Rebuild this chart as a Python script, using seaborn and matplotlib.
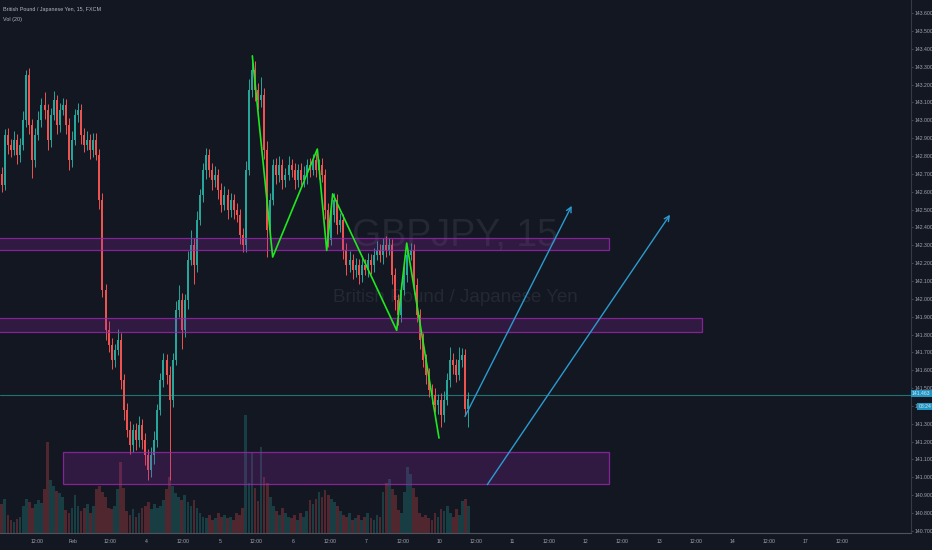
import numpy as np
import seaborn as sns
import matplotlib
matplotlib.use('Agg')
import matplotlib.pyplot as plt
from matplotlib.patches import Rectangle
from matplotlib.ticker import MultipleLocator, FormatStrFormatter

# ==== GBPJPY 15分钟图，按小时读取的价格（收盘价，影线以点计） ====
first_open = 142.700
closes = [
    142.639, 142.919, 142.863, 142.835, 142.891, 142.807, 142.863, 143.003, 143.254, 142.975,
    142.779, 142.919, 143.003, 143.087, 143.059, 142.891, 143.031, 143.114, 142.975, 143.059,
    143.087, 142.975, 142.779, 142.891, 143.031, 143.059, 142.919, 142.863, 142.891, 142.835,
    142.891, 142.807, 142.555, 142.051, 141.827, 141.743, 141.659, 141.715, 141.771, 141.547,
    141.379, 141.267, 141.183, 141.267, 141.211, 141.295, 141.211, 141.127, 141.043, 141.127,
    141.211, 141.379, 141.547, 141.659, 141.575, 141.435, 141.659, 141.939, 141.995, 141.827,
    141.995, 142.219, 142.303, 142.191, 142.443, 142.583, 142.723, 142.807, 142.723, 142.667,
    142.695, 142.611, 142.527, 142.583, 142.499, 142.555, 142.499, 142.471, 142.359, 142.303,
    142.723, 143.170, 143.282, 143.170, 143.114, 143.142, 142.835, 142.387, 142.555, 142.751,
    142.695, 142.751, 142.667, 142.695, 142.751, 142.723, 142.667, 142.723, 142.667, 142.695,
    142.751, 142.723, 142.779, 142.723, 142.751, 142.695, 142.499, 142.331, 142.471, 142.555,
    142.415, 142.443, 142.275, 142.191, 142.219, 142.163, 142.191, 142.135, 142.191, 142.163,
    142.219, 142.191, 142.247, 142.275, 142.247, 142.303, 142.275, 142.303, 142.135, 141.995,
    141.911, 142.051, 142.135, 142.247, 142.275, 142.079, 141.911, 141.771, 141.659, 141.575,
    141.491, 141.463, 141.407, 141.435, 141.351, 141.435, 141.547, 141.659, 141.631, 141.575,
    141.659, 141.687, 141.380, 141.440,
]
up_wick = [
    4, 3, 4, 3, 5, 3, 4, 5, 3, 4,
    3, 4, 5, 4, 7, 3, 4, 5, 3, 4,
    4, 3, 4, 5, 3, 4, 3, 4, 5, 3,
    4, 4, 3, 4, 3, 5, 4, 3, 6, 4,
    3, 4, 5, 3, 4, 5, 3, 4, 3, 4,
    5, 3, 4, 4, 3, 5, 4, 5, 8, 4,
    3, 5, 8, 4, 5, 3, 4, 4, 3, 4,
    5, 3, 4, 5, 3, 4, 3, 4, 3, 4,
    5, 6, 7, 5, 4, 10, 4, 5, 4, 3,
    4, 5, 3, 4, 5, 3, 4, 3, 4, 5,
    3, 4, 3, 4, 3, 4, 3, 4, 5, 4,
    3, 4, 3, 4, 5, 3, 4, 3, 4, 3,
    4, 3, 4, 5, 3, 4, 5, 4, 3, 4,
    3, 4, 5, 4, 4, 3, 4, 3, 4, 3,
    4, 3, 4, 3, 4, 5, 4, 7, 4, 3,
    7, 4, 3, 4,
]
down_wick = [
    4, 3, 5, 4, 3, 5, 4, 3, 4, 5,
    10, 4, 3, 4, 5, 6, 4, 3, 5, 4,
    3, 5, 6, 4, 3, 4, 5, 4, 3, 5,
    4, 3, 5, 4, 6, 4, 5, 4, 3, 5,
    6, 4, 5, 4, 6, 4, 5, 6, 6, 4,
    5, 4, 3, 4, 5, 45, 4, 3, 4, 11,
    4, 5, 3, 11, 4, 3, 4, 5, 4, 6,
    4, 5, 4, 3, 5, 4, 5, 4, 5, 4,
    4, 3, 4, 6, 5, 4, 5, 15, 4, 3,
    5, 4, 5, 4, 3, 4, 5, 4, 3, 4,
    5, 4, 3, 4, 5, 4, 5, 4, 3, 4,
    5, 4, 5, 6, 4, 5, 4, 5, 4, 3,
    4, 5, 4, 3, 4, 5, 4, 3, 5, 6,
    6, 4, 3, 4, 3, 5, 4, 5, 4, 5,
    4, 5, 4, 5, 7, 4, 3, 4, 5, 4,
    3, 4, 3, 10,
]
volumes = [
    32, 38, 20, 14, 12, 15, 18, 30, 38, 34,
    28, 32, 36, 33, 48, 100, 58, 52, 46, 44,
    40, 25, 22, 28, 42, 30, 24, 28, 32, 22,
    30, 48, 52, 45, 40, 28, 26, 30, 48, 78,
    50, 24, 20, 26, 18, 22, 28, 30, 34, 26,
    32, 28, 30, 36, 48, 62, 52, 44, 40, 36,
    42, 34, 30, 36, 28, 22, 18, 16, 20, 14,
    16, 22, 18, 20, 16, 18, 14, 22, 20, 28,
    130, 55, 88, 50, 35, 95, 62, 55, 40, 30,
    24, 20, 28, 22, 18, 16, 20, 14, 22, 18,
    24, 36, 32, 38, 45, 40, 47, 42, 38, 34,
    30, 24, 20, 18, 22, 14, 16, 20, 14, 18,
    22, 16, 14, 20, 18, 45, 55, 60, 48, 42,
    25, 22, 45, 73, 65, 50, 40, 22, 18, 20,
    16, 14, 22, 18, 26, 24, 30, 22, 18, 26,
    20, 35, 38, 30,
]

# x轴：交易日（2月3日 = 0），每半天一个刻度
day_labels = ['12:00', 'Feb', '12:00', '4', '12:00', '5', '12:00', '6', '12:00', '7', '12:00', '10',
              '12:00', '11', '12:00', '12', '12:00', '13', '12:00', '14', '12:00', '17', '12:00']

# 绿色折线（波段）
zigzag_day = [2.443, 2.721, 3.331, 3.459, 3.541, 4.415, 4.552, 4.993]
zigzag_price = [143.361, 142.234, 142.839, 142.271, 142.588, 141.823, 142.312, 141.220]

# 蓝色箭头：起点、终点
arrow_from_day = [5.348, 5.653]
arrow_from_price = [141.341, 140.959]
arrow_to_day = [6.806, 8.149]
arrow_to_price = [142.521, 142.471]

# 紫色区域
zone_left = [-1.2, -1.2, -0.139]
zone_right = [7.31, 8.58, 7.31]
zone_low = [142.271, 141.812, 140.963]
zone_high = [142.340, 141.892, 141.140]

last_price = 141.463
countdown = '08:24'

BG = '#131722'
UP = '#26a69a'
DOWN = '#ef5350'
TXT = '#a3a6af'


def main():
    sns.set_theme(style='dark', rc={'axes.facecolor': BG, 'figure.facecolor': BG,
                                    'savefig.facecolor': BG})
    plt.rcParams['font.family'] = ['Liberation Sans Narrow', 'Liberation Sans', 'DejaVu Sans']

    n = len(closes)
    c = np.array(closes)
    o = np.r_[first_open, c[:-1]]
    hi = np.maximum(o, c) + np.array(up_wick) / 100
    lo = np.minimum(o, c) - np.array(down_wick) / 100
    x = -1.0 + (np.arange(n) + 0.5) / 24
    colors = np.where(c >= o, UP, DOWN)

    fig = plt.figure(figsize=(9.32, 5.5), dpi=100)
    rect = [0, 17 / 550, 911 / 932, 533 / 550]
    ax_vol = fig.add_axes(rect)
    ax = fig.add_axes(rect, sharex=ax_vol)
    ax.patch.set_visible(False)

    # ==== 成交量 ====
    ax_vol.bar(x, volumes, width=0.9 / 24, color=colors, alpha=0.28, linewidth=0)
    ax_vol.set_ylim(0, max(volumes) * 533 / 118)
    ax_vol.set_yticks([])
    ax_vol.tick_params(axis='x', bottom=False, labelbottom=False)
    for s in ax_vol.spines.values():
        s.set_visible(False)

    # ==== 水印 ====
    ax.text(0.4995, 0.5575, 'GBPJPY, 15', transform=ax.transAxes, ha='center', va='center',
            fontsize=27, color='#242833', zorder=0)
    ax.text(0.4995, 0.4425, 'British Pound / Japanese Yen', transform=ax.transAxes,
            ha='center', va='center', fontsize=13.5, color='#242833', zorder=0)

    # ==== K线 ====
    ax.vlines(x, lo, hi, colors=colors, linewidth=0.7, zorder=2)
    ax.bar(x, c - o, bottom=o, width=0.65 / 24, color=colors, linewidth=0, zorder=3)

    # ==== 紫色区域 ====
    for l, r, b, t in zip(zone_left, zone_right, zone_low, zone_high):
        ax.add_patch(Rectangle((l, b), r - l, t - b, facecolor=(156 / 255, 39 / 255, 176 / 255, 0.22),
                               edgecolor=(156 / 255, 39 / 255, 176 / 255, 0.8), linewidth=0.9, zorder=4))

    # ==== 绿色折线 ====
    sns.lineplot(x=zigzag_day, y=zigzag_price, sort=False, estimator=None, color='#1ee81e',
                 linewidth=1.2, ax=ax, zorder=5)

    # ==== 箭头 ====
    for x0, y0, x1, y1 in zip(arrow_from_day, arrow_from_price, arrow_to_day, arrow_to_price):
        ax.annotate('', xy=(x1, y1), xytext=(x0, y0),
                    arrowprops=dict(arrowstyle='->', color='#2b9bd0', lw=1.0,
                                    mutation_scale=9, shrinkA=0, shrinkB=0), zorder=5)

    # 当前价格线
    ax.axhline(last_price, color='#1f756f', linewidth=0.8, zorder=1)

    # ==== 坐标轴 ====
    ax.set_xlim(-1.004, 11.441)
    ax.set_ylim(140.688, 143.674)
    ax.yaxis.tick_right()
    ax.yaxis.set_major_locator(MultipleLocator(0.1))
    ax.yaxis.set_major_formatter(FormatStrFormatter('%.3f'))
    ticks = [-0.5 + 0.5 * k for k in range(len(day_labels))]
    ax.set_xticks(ticks)
    ax.set_xticklabels(day_labels)
    ax.tick_params(axis='both', colors='#50535e', labelcolor=TXT, labelsize=3.7,
                   length=1.5, width=0.6)
    ax.tick_params(axis='x', pad=2.5)
    ax.tick_params(axis='y', pad=0.8)
    ax.grid(False)
    ax_vol.grid(False)
    for side in ['top', 'left']:
        ax.spines[side].set_visible(False)
    ax.spines['right'].set_color('#363a45')
    ax.spines['right'].set_linewidth(0.8)
    ax.spines['bottom'].set_color('#50535e')
    ax.spines['bottom'].set_linewidth(0.8)
    ax.set_xlabel('')
    ax.set_ylabel('')

    # 右侧价格标签
    ax.text(1.001, last_price + 0.004, '{:.3f}'.format(last_price), transform=ax.get_yaxis_transform(),
            ha='left', va='center', fontsize=3.7, color='#e0e3eb', zorder=6, clip_on=False,
            bbox=dict(boxstyle='square,pad=0.2', facecolor='#2196c4', edgecolor='none'))
    ax.text(1.008, last_price - 0.066, countdown, transform=ax.get_yaxis_transform(),
            ha='left', va='center', fontsize=3.7, color='#e0e3eb', zorder=6, clip_on=False,
            bbox=dict(boxstyle='square,pad=0.2', facecolor='#2196c4', edgecolor='none'))

    # 左上角图例
    fig.text(3 / 932, 1 - 10 / 550, 'British Pound / Japanese Yen, 15, FXCM', ha='left',
             va='center', fontsize=3.9, color='#b2b5be')
    fig.text(3 / 932, 1 - 19.5 / 550, 'Vol (20)', ha='left', va='center', fontsize=3.9,
             color='#b2b5be')

    fig.savefig('out.png', dpi=100)


if __name__ == '__main__':
    main()
